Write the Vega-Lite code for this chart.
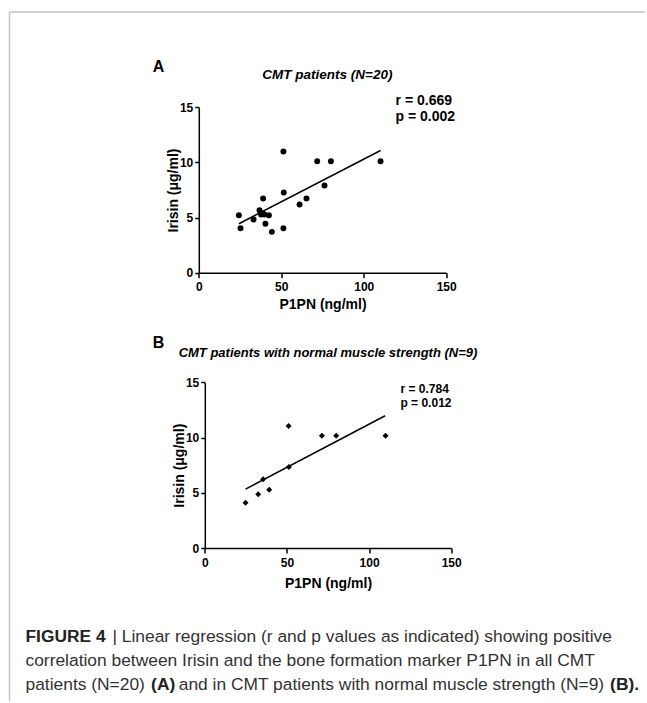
{
  "$schema": "https://vega.github.io/schema/vega-lite/v6.json",
  "autosize": {"type": "pad"},
  "padding": {"left": 8.5, "top": 11, "right": 0, "bottom": 0},
  "background": "white",
  "spacing": 0,
  "bounds": "flush",
  "config": {
    "font": "Liberation Sans",
    "view": {"stroke": null},
    "axis": {
      "grid": false,
      "domainColor": "#000",
      "domainWidth": 1.5,
      "tickColor": "#000",
      "tickWidth": 1.5,
      "labelColor": "#000",
      "labelFont": "Liberation Sans",
      "labelFontSize": 12,
      "labelFontWeight": "bold",
      "titleColor": "#000",
      "titleFont": "Liberation Sans",
      "titleFontSize": 14,
      "titleFontWeight": "bold",
      "labelFlush": false
    },
    "text": {"font": "Liberation Sans", "color": "#000"}
  },
  "datasets": {
    "all": [
      {"P1PN": 24.3, "Irisin": 5.22},
      {"P1PN": 25.3, "Irisin": 4.04},
      {"P1PN": 33.2, "Irisin": 4.83},
      {"P1PN": 36.8, "Irisin": 5.67},
      {"P1PN": 37.8, "Irisin": 5.28},
      {"P1PN": 38.6, "Irisin": 5.4},
      {"P1PN": 39.0, "Irisin": 6.73},
      {"P1PN": 39.8, "Irisin": 5.28},
      {"P1PN": 40.4, "Irisin": 4.44},
      {"P1PN": 42.5, "Irisin": 5.22},
      {"P1PN": 44.3, "Irisin": 3.71},
      {"P1PN": 51.3, "Irisin": 10.99},
      {"P1PN": 51.5, "Irisin": 7.27},
      {"P1PN": 51.3, "Irisin": 4.04},
      {"P1PN": 61.1, "Irisin": 6.19},
      {"P1PN": 65.3, "Irisin": 6.73},
      {"P1PN": 71.8, "Irisin": 10.11},
      {"P1PN": 76.2, "Irisin": 7.91},
      {"P1PN": 80.1, "Irisin": 10.11},
      {"P1PN": 110.2, "Irisin": 10.11}
    ],
    "normal": [
      {"P1PN": 24.8, "Irisin": 4.1},
      {"P1PN": 32.5, "Irisin": 4.86},
      {"P1PN": 35.5, "Irisin": 6.22},
      {"P1PN": 39.2, "Irisin": 5.28},
      {"P1PN": 51.0, "Irisin": 11.05},
      {"P1PN": 51.2, "Irisin": 7.33},
      {"P1PN": 71.3, "Irisin": 10.17},
      {"P1PN": 80.0, "Irisin": 10.17},
      {"P1PN": 110.0, "Irisin": 10.17}
    ],
    "fitA": [
      {"P1PN": 24.3, "Irisin": 4.44},
      {"P1PN": 110.2, "Irisin": 11.08}
    ],
    "fitB": [
      {"P1PN": 24.8, "Irisin": 5.34},
      {"P1PN": 109.8, "Irisin": 11.98}
    ],
    "capRegular": [
      {"line": 1, "text": "\u200b\u00a0\u00a0\u00a0\u00a0\u00a0\u00a0\u00a0\u00a0\u00a0\u00a0\u00a0\u00a0\u00a0\u00a0\u00a0\u00a0\u00a0\u00a0| Linear regression (r and p values as indicated) showing positive"},
      {"line": 2, "text": "correlation between Irisin and the bone formation marker P1PN in all CMT"},
      {"line": 3, "text": "patients (N=20)\u00a0\u00a0\u00a0\u00a0\u00a0\u00a0\u00a0and in CMT patients with normal muscle strength (N=9)"}
    ],
    "capBold": [
      {"line": 1, "text": "FIGURE 4"},
      {"line": 3, "text": "\u200b\u00a0\u00a0\u00a0\u00a0\u00a0\u00a0\u00a0\u00a0\u00a0\u00a0\u00a0\u00a0\u00a0\u00a0\u00a0\u00a0\u00a0\u00a0\u00a0\u00a0\u00a0\u00a0\u00a0\u00a0\u00a0\u00a0(A)\u00a0\u00a0\u00a0\u00a0\u00a0\u00a0\u00a0\u00a0\u00a0\u00a0\u00a0\u00a0\u00a0\u00a0\u00a0\u00a0\u00a0\u00a0\u00a0\u00a0\u00a0\u00a0\u00a0\u00a0\u00a0\u00a0\u00a0\u00a0\u00a0\u00a0\u00a0\u00a0\u00a0\u00a0\u00a0\u00a0\u00a0\u00a0\u00a0\u00a0\u00a0\u00a0\u00a0\u00a0\u00a0\u00a0\u00a0\u00a0\u00a0\u00a0\u00a0\u00a0\u00a0\u00a0\u00a0\u00a0\u00a0\u00a0\u00a0\u00a0\u00a0\u00a0\u00a0\u00a0\u00a0\u00a0\u00a0\u00a0\u00a0\u00a0\u00a0\u00a0\u00a0\u00a0\u00a0\u00a0\u00a0\u00a0\u00a0\u00a0\u00a0\u00a0\u00a0\u00a0\u00a0\u00a0\u00a0\u00a0\u00a0\u00a0(B)."}
    ]
  },
  "vconcat": [
    {
      "width": 635.5,
      "height": 260.8,
      "view": {"stroke": "#c4c4c4", "strokeWidth": 1.5, "strokeDash": [635.5, 896.3, 260.8]},
      "layer": [
        {
          "data": {"name": "all"},
          "mark": {"type": "circle", "size": 35, "color": "#000", "opacity": 1},
          "encoding": {
            "x": {"field": "P1PN", "type": "quantitative",
                  "scale": {"domain": [0, 150], "range": [189.3, 436.7], "nice": false, "zero": false},
                  "axis": {"title": "P1PN (ng/ml)", "values": [0, 50, 100, 150], "tickSize": 5, "labelPadding": 4, "titlePadding": 5}},
            "y": {"field": "Irisin", "type": "quantitative",
                  "scale": {"domain": [0, 15], "range": [260.8, 95.2], "nice": false, "zero": false},
                  "axis": {"title": "Irisin (μg/ml)", "values": [0, 5, 10, 15], "offset": -189.3, "tickSize": 4, "labelPadding": 2, "titlePadding": -1}}
          }
        },
        {
          "data": {"name": "fitA"},
          "mark": {"type": "line", "color": "#000", "strokeWidth": 1.5},
          "encoding": {
            "x": {"field": "P1PN", "type": "quantitative"},
            "y": {"field": "Irisin", "type": "quantitative"}
          }
        },
        {
          "data": {"values": [{"label": "A"}]},
          "mark": {"type": "text", "fontSize": 16, "fontWeight": "bold", "align": "center", "baseline": "middle"},
          "encoding": {
            "x": {"datum": -24.4, "type": "quantitative"},
            "y": {"datum": 18.6, "type": "quantitative"},
            "text": {"field": "label"}
          }
        },
        {
          "data": {"values": [{"label": "CMT patients (N=20)"}]},
          "mark": {"type": "text", "fontSize": 13.5, "fontWeight": "bold", "fontStyle": "italic", "align": "center", "baseline": "middle"},
          "encoding": {
            "x": {"datum": 78.0, "type": "quantitative"},
            "y": {"datum": 17.96, "type": "quantitative"},
            "text": {"field": "label"}
          }
        },
        {
          "data": {"values": [{"label": "r = 0.669"}]},
          "mark": {"type": "text", "fontSize": 14, "fontWeight": "bold", "align": "left", "baseline": "middle"},
          "encoding": {
            "x": {"datum": 119.3, "type": "quantitative"},
            "y": {"datum": 15.52, "type": "quantitative"},
            "text": {"field": "label"}
          }
        },
        {
          "data": {"values": [{"label": "p = 0.002"}]},
          "mark": {"type": "text", "fontSize": 14, "fontWeight": "bold", "align": "left", "baseline": "middle"},
          "encoding": {
            "x": {"datum": 119.3, "type": "quantitative"},
            "y": {"datum": 14.07, "type": "quantitative"},
            "text": {"field": "label"}
          }
        }
      ]
    },
    {
      "width": 635.5,
      "height": 275,
      "view": {"stroke": "#c4c4c4", "strokeWidth": 1.5, "strokeDash": [0, 1546, 275]},
      "layer": [
        {
          "data": {"name": "normal"},
          "mark": {"type": "point", "shape": "diamond", "filled": true, "size": 36, "color": "#000", "opacity": 1},
          "encoding": {
            "x": {"field": "P1PN", "type": "quantitative",
                  "scale": {"domain": [0, 150], "range": [195.3, 441.7], "nice": false, "zero": false},
                  "axis": {"title": "P1PN (ng/ml)", "values": [0, 50, 100, 150], "tickSize": 5, "labelPadding": 4, "titlePadding": 8}},
            "y": {"field": "Irisin", "type": "quantitative",
                  "scale": {"domain": [0, 15], "range": [275, 109.4], "nice": false, "zero": false},
                  "axis": {"title": "Irisin (μg/ml)", "values": [0, 5, 10, 15], "offset": -195.3, "tickSize": 4, "labelPadding": 2, "titlePadding": -1}}
          }
        },
        {
          "data": {"name": "fitB"},
          "mark": {"type": "line", "color": "#000", "strokeWidth": 1.5},
          "encoding": {
            "x": {"field": "P1PN", "type": "quantitative"},
            "y": {"field": "Irisin", "type": "quantitative"}
          }
        },
        {
          "data": {"values": [{"label": "B"}]},
          "mark": {"type": "text", "fontSize": 16, "fontWeight": "bold", "align": "center", "baseline": "middle"},
          "encoding": {
            "x": {"datum": -28.2, "type": "quantitative"},
            "y": {"datum": 18.6, "type": "quantitative"},
            "text": {"field": "label"}
          }
        },
        {
          "data": {"values": [{"label": "CMT patients with normal muscle strength (N=9)"}]},
          "mark": {"type": "text", "fontSize": 13, "fontWeight": "bold", "fontStyle": "italic", "align": "center", "baseline": "middle"},
          "encoding": {
            "x": {"datum": 75.0, "type": "quantitative"},
            "y": {"datum": 17.66, "type": "quantitative"},
            "text": {"field": "label"}
          }
        },
        {
          "data": {"values": [{"label": "r = 0.784"}]},
          "mark": {"type": "text", "fontSize": 12, "fontWeight": "bold", "align": "left", "baseline": "middle"},
          "encoding": {
            "x": {"datum": 119.1, "type": "quantitative"},
            "y": {"datum": 14.36, "type": "quantitative"},
            "text": {"field": "label"}
          }
        },
        {
          "data": {"values": [{"label": "p = 0.012"}]},
          "mark": {"type": "text", "fontSize": 12, "fontWeight": "bold", "align": "left", "baseline": "middle"},
          "encoding": {
            "x": {"datum": 119.1, "type": "quantitative"},
            "y": {"datum": 13.1, "type": "quantitative"},
            "text": {"field": "label"}
          }
        }
      ]
    },
    {
      "width": 635.5,
      "height": 153.2,
      "view": {"stroke": "#c4c4c4", "strokeWidth": 1.5, "strokeDash": [0, 1424.2, 153.2]},
      "layer": [
        {
          "data": {"name": "capRegular"},
          "mark": {"type": "text", "align": "left", "baseline": "middle", "fontSize": 17.4, "color": "#333"},
          "encoding": {
            "x": {"datum": 0, "type": "quantitative", "scale": {"domain": [0, 1], "range": [16, 635.5]}, "axis": null},
            "y": {"field": "line", "type": "ordinal", "scale": {"type": "point", "range": [89.4, 137.4], "padding": 0}, "axis": null},
            "text": {"field": "text"}
          }
        },
        {
          "data": {"name": "capBold"},
          "mark": {"type": "text", "align": "left", "baseline": "middle", "fontSize": 17.4, "fontWeight": "bold", "color": "#222"},
          "encoding": {
            "x": {"datum": 0, "type": "quantitative"},
            "y": {"field": "line", "type": "ordinal"},
            "text": {"field": "text"}
          }
        }
      ]
    }
  ]
}
